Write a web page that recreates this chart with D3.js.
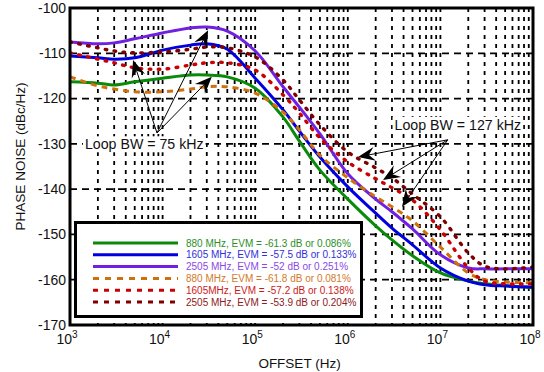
<!DOCTYPE html>
<html>
<head>
<meta charset="utf-8">
<script src="https://cdn.jsdelivr.net/npm/d3@7/dist/d3.min.js"></script>
<style>
  html, body { margin: 0; padding: 0; background: #fff; }
  svg { display: block; font-family: "Liberation Sans", Arial, Helvetica, sans-serif; }
</style>
</head>
<body>
<svg id="chart" width="544" height="372"></svg>
<script>
// Offset frequencies (Hz) at which each phase-noise trace is sampled
const offsets = [1e3, 2e3, 3e3, 5e3, 1e4, 2e4, 3e4, 5e4, 1e5, 2e5, 3e5, 5e5,
                 1e6, 2e6, 3e6, 5e6, 1e7, 2e7, 3e7, 5e7, 1e8];

// Phase noise (dBc/Hz), loop BW = 75 kHz
const pn880 = [-116.3, -116.6, -117.0, -116.3, -115.5, -114.8, -114.8, -115.2, -117.7, -124.1, -129.4,
               -135.8, -142.2, -148.1, -151.2, -154.7, -158.5, -160.3, -160.9, -161.3, -161.8];
const pn1605 = [-110.6, -111.0, -111.3, -111.0, -109.3, -108.2, -107.9, -109.1, -115.5, -122.5, -127.2,
                -132.9, -139.5, -145.3, -148.6, -152.3, -157.4, -160.3, -161.1, -161.4, -161.6];
const pn2505 = [-107.5, -107.9, -107.7, -106.8, -105.5, -104.4, -104.2, -105.1, -109.5, -117.4, -121.9,
                -127.8, -136.6, -142.2, -145.0, -148.8, -154.5, -157.4, -157.6, -157.6, -157.6];

// Phase noise (dBc/Hz), loop BW = 127 kHz
const pn880w = [-115.2, -117.2, -117.9, -118.5, -118.5, -117.9, -117.4, -117.4, -118.8, -123.0, -126.9,
                -132.5, -137.5, -141.7, -143.9, -147.0, -152.8, -158.5, -160.0, -160.5, -160.7];
const pn1605w = [-109.9, -111.3, -112.1, -113.2, -113.5, -112.6, -112.1, -112.1, -113.7, -119.2, -123.2,
                 -128.7, -134.0, -137.7, -139.7, -142.4, -149.0, -157.4, -160.3, -160.9, -160.9];
const pn2505w = [-107.5, -108.8, -109.5, -109.9, -109.7, -109.1, -108.6, -108.8, -110.8, -115.9, -120.3,
                 -125.8, -131.8, -135.3, -137.5, -141.1, -146.1, -154.1, -157.0, -157.6, -157.2];

const seriesLabels = [
  "880 MHz, EVM = -61.3 dB or 0.086%",
  "1605 MHz, EVM = -57.5 dB or 0.133%",
  "2505 MHz, EVM  = -52 dB or 0.251%",
  "880 MHz, EVM = -61.8 dB or 0.081%",
  "1605MHz, EVM  = -57.2 dB or 0.138%",
  "2505 MHz, EVM = -53.9 dB or 0.204%"
];

const yTicks = [-100, -110, -120, -130, -140, -150, -160, -170];
const xTickExps = [3, 4, 5, 6, 7, 8];

const series = [
  { values: pn880,   color: "#0a8a0a", text: "#2a8f2a", dash: null,  width: 3 },
  { values: pn1605,  color: "#0000e0", text: "#3030d8", dash: null,  width: 3 },
  { values: pn2505,  color: "#7020e0", text: "#8a48e6", dash: null,  width: 3 },
  { values: pn880w,  color: "#d0700c", text: "#d27a2a", dash: "6,5", width: 3, legDash: "6,6" },
  { values: pn1605w, color: "#cc0000", text: "#cc1a1a", dash: "1.6,7.4", width: 3.4, legDash: "5,6", round: true },
  { values: pn2505w, color: "#800000", text: "#8c2020", dash: "1.6,7.4", width: 3.4, legDash: "5,6", round: true }
];
series.forEach((s, i) => s.label = seriesLabels[i]);

const svg = d3.select("#chart");
const m = { left: 70, right: 533, top: 8, bottom: 325 };

const x = d3.scaleLog().domain([1e3, 1e8]).range([m.left, m.right]);
const y = d3.scaleLinear().domain([-170, -100]).range([m.bottom, m.top]);

// Grid: vertical lines at every decade and sub-decade step
const gridX = [];
for (let e = 3; e < 8; e++) for (let k = 1; k <= 9; k++) if (!(e === 3 && k === 1)) gridX.push(k * Math.pow(10, e));
const g = svg.append("g");
g.selectAll("line.vx").data(gridX).join("line")
  .attr("x1", d => x(d)).attr("x2", d => x(d))
  .attr("y1", m.top).attr("y2", m.bottom)
  .attr("stroke", "#000").attr("stroke-width", 1.8).attr("stroke-dasharray", "4,5");
g.selectAll("line.hy").data(yTicks.slice(1, -1)).join("line")
  .attr("x1", m.left).attr("x2", m.right)
  .attr("y1", d => y(d)).attr("y2", d => y(d))
  .attr("stroke", "#000").attr("stroke-width", 1.8).attr("stroke-dasharray", "7,5");

// Traces
const clip = svg.append("clipPath").attr("id", "plotclip").append("rect")
  .attr("x", m.left).attr("y", m.top).attr("width", m.right - m.left).attr("height", m.bottom - m.top);
const line = d3.line().x(d => x(d[0])).y(d => y(d[1])).curve(d3.curveCatmullRom.alpha(0.5));
const traces = svg.append("g").attr("clip-path", "url(#plotclip)");
series.forEach(s => {
  traces.append("path")
    .attr("d", line(offsets.map((f, i) => [f, s.values[i]])))
    .attr("fill", "none").attr("stroke", s.color).attr("stroke-width", s.width)
    .attr("stroke-dasharray", s.dash).attr("stroke-linecap", s.round ? "round" : "butt");
});

// Annotations
function arrow(from, to) {
  const x0 = x(from[0]), y0 = y(from[1]), x1 = x(to[0]), y1 = y(to[1]);
  const ang = Math.atan2(y1 - y0, x1 - x0);
  const L = 17, W = 7, notch = 11;
  const ux = Math.cos(ang), uy = Math.sin(ang), px = -uy, py = ux;
  const bx = x1 - ux * L, by = y1 - uy * L;
  const nx = x1 - ux * notch, ny = y1 - uy * notch;
  svg.append("line").attr("x1", x0).attr("y1", y0).attr("x2", nx).attr("y2", ny)
    .attr("stroke", "#000").attr("stroke-width", 1);
  svg.append("path")
    .attr("d", `M${x1},${y1}L${bx + px * W},${by + py * W}L${nx},${ny}L${bx - px * W},${by - py * W}Z`)
    .attr("fill", "#000");
}
function boxedText(xv, yv, str) {
  const t = svg.append("text").attr("x", x(xv)).attr("y", y(yv)).attr("dy", "0.35em")
    .attr("font-size", 14.2).attr("fill", "#111").text(str);
  const b = t.node().getBBox();
  svg.insert("rect", () => t.node()).attr("x", b.x - 2).attr("y", b.y).attr("width", b.width + 4)
    .attr("height", b.height).attr("fill", "#fff");
}
boxedText(1.45e3, -130.1, "Loop BW = 75 kHz");
const apex75 = [8.7e3, -127.6];
arrow(apex75, [4.8e3, -111.5]);
arrow(apex75, [3.1e4, -104.9]);
arrow(apex75, [3.4e4, -115.2]);

boxedText(3.2e6, -125.8, "Loop BW = 127 kHz");
const apex127 = [1.2e7, -129.1];
arrow(apex127, [1.29e6, -132.9]);
arrow(apex127, [2.4e6, -138.0]);
arrow(apex127, [3.85e6, -143.9]);

// Legend
const leg = svg.append("g");
leg.append("rect").attr("x", 75.5).attr("y", 222.5).attr("width", 286).attr("height", 94)
  .attr("fill", "#fff").attr("stroke", "#000").attr("stroke-width", 3);
series.forEach((s, i) => {
  const ly = 243 + i * 11.8;
  leg.append("line").attr("x1", 93).attr("x2", 178).attr("y1", ly).attr("y2", ly)
    .attr("stroke", s.color).attr("stroke-width", 3).attr("stroke-dasharray", s.legDash || null);
  leg.append("text").attr("x", 186).attr("y", ly).attr("dy", "0.35em")
    .attr("font-size", 10).attr("fill", s.text).text(s.label);
});

// Frame
svg.append("rect").attr("x", m.left).attr("y", m.top)
  .attr("width", m.right - m.left).attr("height", m.bottom - m.top)
  .attr("fill", "none").attr("stroke", "#000").attr("stroke-width", 3);

// Axis labels
svg.selectAll("text.yt").data(yTicks).join("text")
  .attr("x", 66).attr("y", d => y(d)).attr("dy", "0.35em").attr("text-anchor", "end")
  .attr("font-size", 14).attr("fill", "#111").text(d => d);
const xt = svg.selectAll("text.xt").data(xTickExps).join("text")
  .attr("x", d => x(Math.pow(10, d)) - 3).attr("y", 344).attr("text-anchor", "middle")
  .attr("font-size", 14).attr("fill", "#111");
xt.append("tspan").text("10");
xt.append("tspan").attr("dy", -6).attr("font-size", 10).text(d => d);

svg.append("text").attr("x", (m.left + m.right) / 2 - 2).attr("y", 368).attr("text-anchor", "middle")
  .attr("font-size", 13.5).attr("fill", "#111").text("OFFSET (Hz)");
svg.append("text").attr("transform", `translate(25,${(m.top + m.bottom) / 2 - 10}) rotate(-90)`)
  .attr("text-anchor", "middle").attr("font-size", 13.5).attr("fill", "#111")
  .text("PHASE NOISE (dBc/Hz)");
</script>
</body>
</html>
